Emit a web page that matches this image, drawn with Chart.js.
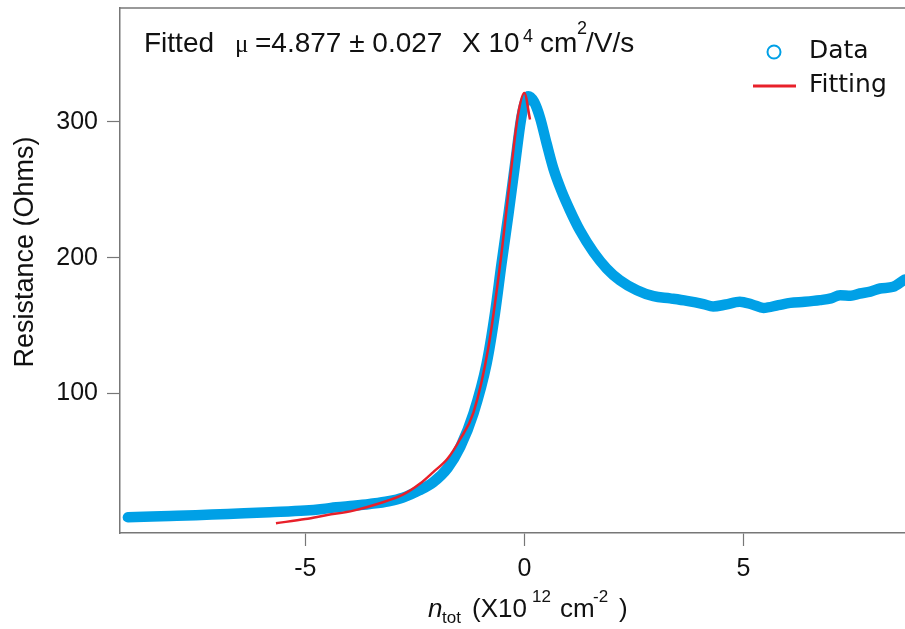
<!DOCTYPE html>
<html>
<head>
<meta charset="utf-8">
<script src="https://cdn.jsdelivr.net/npm/chart.js@4"></script>
<style>
  html, body { margin: 0; padding: 0; background: #fff; }
  #wrap { width: 905px; height: 629px; }
</style>
</head>
<body>
<div id="wrap"><canvas id="rn_chart" width="905" height="629"></canvas></div>
<script>
// carrier density (x10^12 cm^-2) and measured resistance (Ohms)
const nData = [-9.05, -8.5, -8.09, -7.5, -6.95, -6.4, -5.81, -5.0, -4.6, -4.29, -3.9, -3.53, -3.1, -2.77,
  -2.4, -2.08, -1.75, -1.46, -1.16, -0.86, -0.67, -0.52, -0.36, -0.21, -0.08, 0.0, 0.09, 0.22, 0.36, 0.51,
  0.66, 0.85, 1.04, 1.27, 1.58, 1.88, 2.18, 2.57, 2.95, 3.33, 3.71, 4.09, 4.31, 4.6, 4.92, 5.2, 5.46, 5.8,
  6.07, 6.4, 6.75, 7.0, 7.21, 7.45, 7.66, 7.9, 8.12, 8.42, 8.69, 8.85];
const rData = [8.7, 9.2, 9.6, 10.2, 10.9, 11.6, 12.4, 13.6, 14.8, 16.1, 17.2, 18.5, 20.5, 23.2,
  28.5, 34.5, 45, 60.7, 85.3, 122, 159, 195.7, 232.5, 269.3, 301, 313, 319, 315, 303, 284,
  266, 249, 235, 220, 204, 192, 183.4, 176, 171.6, 170, 168.2, 165.8, 164, 165.5, 167.5, 165.5, 163, 165,
  166.7, 167.5, 168.7, 170, 172.4, 172, 173.6, 175, 177.3, 178.5, 183.9, 186];

// fitted curve
const nFit = [-5.67, -5.0, -4.5, -3.9, -3.3, -2.76, -2.38, -2.08, -1.75, -1.47, -1.16, -0.82, -0.55, -0.33, -0.14, 0.0, 0.13];
const rFit = [4.3, 7.4, 10.3, 13.6, 19, 25.5, 33.5, 42, 52, 66, 86, 134, 195.7, 257, 306, 321.4, 301.8];

const xTicks = [-5, 0, 5];
const yTicks = [100, 200, 300];

const SANS = '"Liberation Sans", Arial, Helvetica, sans-serif';
const AXIS = '#777';
const BLUE = '#00a0e6';
const RED = '#e8202a';

const toPts = (xs, ys) => xs.map((x, i) => ({x: x, y: ys[i]}));

// frame top line, fit annotation, legend and axis titles
const extras = {
  id: 'extras',
  afterDraw(chart) {
    const ctx = chart.ctx;
    const a = chart.chartArea;
    ctx.save();
    ctx.strokeStyle = AXIS;
    ctx.lineWidth = 1.5;
    ctx.beginPath();
    ctx.moveTo(a.left, a.top);
    ctx.lineTo(a.right, a.top);
    ctx.stroke();

    ctx.fillStyle = '#111';
    ctx.textBaseline = 'alphabetic';
    ctx.textAlign = 'left';
    const put = (s, x, y, px, style, fam) => {
      ctx.font = (style || '') + ' ' + px + 'px ' + (fam || SANS);
      ctx.fillText(s, x, y);
    };

    put('Fitted', 144, 52, 28);
    put('μ', 235, 52, 25, '', '"Liberation Serif", serif');
    put('=4.877 ± 0.027', 255, 52, 28);
    put('X 10', 462, 52, 28);
    put('4', 523, 42, 18);
    put('cm', 540, 52, 28);
    put('2', 577, 34, 18);
    put('/V/s', 586, 52, 28);

    // legend
    ctx.strokeStyle = BLUE;
    ctx.lineWidth = 2;
    ctx.beginPath();
    ctx.arc(774, 52, 6.5, 0, Math.PI * 2);
    ctx.stroke();
    ctx.strokeStyle = RED;
    ctx.lineWidth = 3;
    ctx.beginPath();
    ctx.moveTo(753, 86);
    ctx.lineTo(796, 86);
    ctx.stroke();
    put('Data', 809, 58, 25, '', '"DejaVu Sans", sans-serif');
    put('Fitting', 809, 92, 25, '', '"DejaVu Sans", sans-serif');

    // x title
    put('n', 428, 617, 26, 'italic');
    put('tot', 442, 623, 17);
    put('(X10', 472, 617, 26);
    put('12', 532, 602, 17);
    put('cm', 560, 617, 26);
    put('-2', 593, 602, 17);
    put(')', 619, 617, 26);

    // y title
    ctx.translate(33, 252);
    ctx.rotate(-Math.PI / 2);
    ctx.textAlign = 'center';
    put('Resistance (Ohms)', 0, 0, 27);
    ctx.restore();
  }
};

const ctx = document.getElementById('rn_chart').getContext('2d');
new Chart(ctx, {
  type: 'line',
  data: {
    datasets: [
      {
        label: 'Data',
        data: toPts(nData, rData),
        order: 2,
        borderColor: BLUE,
        borderWidth: 10.5,
        borderCapStyle: 'round',
        borderJoinStyle: 'round',
        pointRadius: 0,
        cubicInterpolationMode: 'monotone',
        fill: false
      },
      {
        label: 'Fitting',
        data: toPts(nFit, rFit),
        order: 1,
        borderColor: RED,
        borderWidth: 2.5,
        pointRadius: 0,
        cubicInterpolationMode: 'monotone',
        fill: false
      }
    ]
  },
  options: {
    responsive: false,
    animation: false,
    layout: {padding: {left: 0, right: 0, top: 8, bottom: 0}},
    plugins: {
      legend: {display: false},
      tooltip: {enabled: false}
    },
    scales: {
      x: {
        type: 'linear',
        min: -9.23,
        max: 8.69,
        afterBuildTicks: (s) => { s.ticks = xTicks.map(v => ({value: v})); },
        afterFit: (s) => { s.height = 96; s.paddingLeft = 0; s.paddingRight = 0; },
        border: {display: true, color: AXIS, width: 1.5},
        grid: {drawOnChartArea: false, drawTicks: true, tickLength: 13, tickColor: AXIS, tickWidth: 1.2},
        ticks: {color: '#111', padding: 8, font: {family: SANS, size: 25}, maxRotation: 0}
      },
      y: {
        min: -2.9,
        max: 384,
        afterBuildTicks: (s) => { s.ticks = yTicks.map(v => ({value: v})); },
        afterFit: (s) => { s.width = 120; s.paddingTop = 0; s.paddingBottom = 0; },
        border: {display: true, color: AXIS, width: 1.5},
        grid: {drawOnChartArea: false, drawTicks: true, tickLength: 13, tickColor: AXIS, tickWidth: 1.2},
        ticks: {color: '#111', padding: 9, font: {family: SANS, size: 25}}
      }
    }
  },
  plugins: [extras]
});
</script>
</body>
</html>
